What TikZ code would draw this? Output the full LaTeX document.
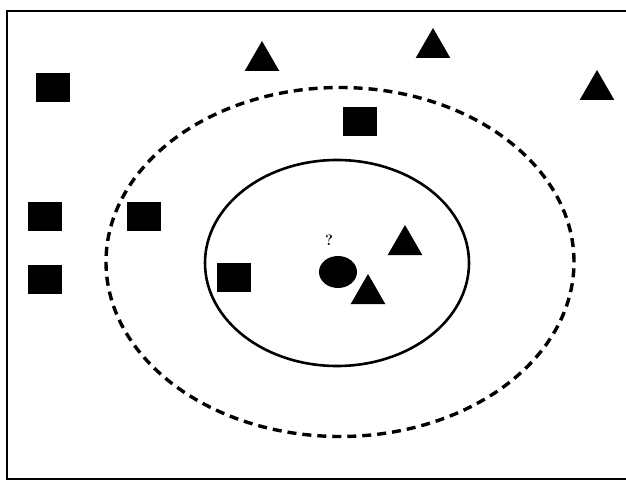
\documentclass[tikz,border=0pt]{standalone}
\usetikzlibrary{shapes.geometric}
\begin{document}
\begin{tikzpicture}[x=1pt,y=-1pt,
  sq/.style={draw=none,fill=black,rectangle,minimum width=34pt,minimum height=29pt,inner sep=0pt},
  tri/.style={draw=none,fill=black,regular polygon,regular polygon sides=3,minimum size=40pt,inner sep=0pt},
  frameline/.style={line width=2.2pt}]
\useasboundingbox (0,0) rectangle (626,481);
% frame
\coordinate (tl) at (7,11);
\coordinate (tr) at (626,11);
\coordinate (bl) at (7,479);
\coordinate (br) at (626,479);
\draw[frameline] (tr) -- (tl) -- (bl) -- (br);
% ellipses
\node[draw,line width=3.4pt,dash pattern=on 9pt off 6pt,ellipse,minimum width=468pt,minimum height=349pt,inner sep=0pt] (outer) at (340,262) {};
\node[draw,line width=2.6pt,ellipse,minimum width=264pt,minimum height=206pt,inner sep=0pt] (inner) at (337,263) {};
% squares
\node[sq] (s1) at (53,88) {};
\node[sq] (s2) at (360,122) {};
\node[sq] (s3) at (45,216) {};
\node[sq] (s4) at (144,216) {};
\node[sq] (s5) at (45,279) {};
\node[sq] (s6) at (234,277) {};
% triangles
\node[tri] (t1) at (262,61) {};
\node[tri] (t2) at (433,48) {};
\node[tri] (t3) at (597,90) {};
\node[tri] (t4) at (405,245) {};
\node[tri] (t5) at (368,294) {};
% query point
\node[fill=black,ellipse,minimum width=38pt,minimum height=32pt,inner sep=0pt] (q) at (338,272) {};
\node[font=\fontsize{15}{17}\selectfont\bfseries,inner sep=0pt] (qm) at (329,240) {?};
\end{tikzpicture}
\end{document}
